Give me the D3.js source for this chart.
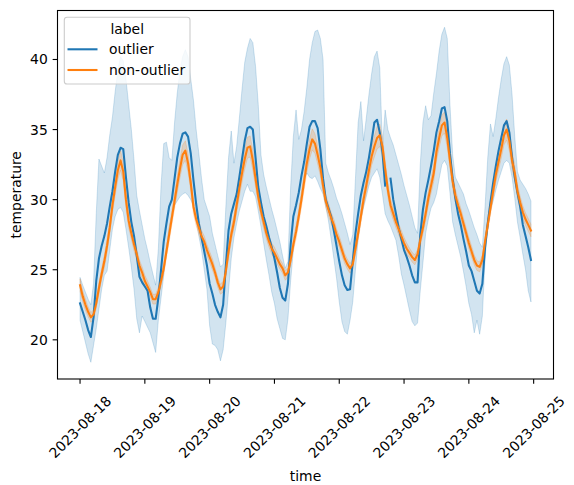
<!DOCTYPE html>
<html>
<head>
<meta charset="utf-8">
<script src="https://cdn.jsdelivr.net/npm/d3@7"></script>
<style>
  html, body { margin: 0; padding: 0; background: #fff; }
  svg { display: block; }
  text { font-family: "DejaVu Sans", sans-serif; fill: #000; }
</style>
</head>
<body>
<svg id="chart" width="574" height="485"></svg>
<script>
// ---------------- DATA (hourly, 2023-08-18 00:00 UTC onwards) ----------------
const startTime = "2023-08-18T00:00:00Z";
const seriesLabels = ["outlier", "non-outlier"];
const legendTitle = "label";
const xLabel = "time";
const yLabel = "temperature";
const yTickValues = [20, 25, 30, 35, 40];

// outlier: mean temperature
const outlierMean = [
  22.6, 22.0, 21.4, 20.7, 20.2, 21.6, 24.2, 25.8, 26.7, 27.4, 28.3, 29.5, 30.6, 32.0, 33.2, 33.7, 33.6, 31.6, 29.8, 28.4, 27.4, 26.0, 24.5, 24.1,
  23.8, 23.5, 22.3, 21.5, 21.5, 23.0, 25.0, 27.0, 28.3, 29.5, 30.0, 31.5, 33.0, 34.0, 34.7, 34.8, 34.5, 33.3, 31.4, 29.7, 28.3, 27.3, 26.3, 25.3,
  24.0, 23.3, 22.5, 22.0, 21.6, 22.5, 25.3, 27.8, 29.0, 29.7, 30.4, 31.6, 32.9, 34.2, 35.1, 35.2, 35.0, 33.0, 30.9, 29.8, 28.8, 28.1, 27.3, 26.6,
  25.8, 24.8, 23.7, 23.0, 22.8, 24.0, 26.8, 28.8, 29.6, 30.5, 31.7, 32.7, 34.0, 35.2, 35.6, 35.6, 35.1, 33.6, 31.5, 30.0, 29.4, 28.8, 27.8, 26.7,
  25.6, 24.6, 23.9, 23.55, 23.6, 25.6, 27.6, 29.0, 30.3, 31.2, 32.0, 33.0, 34.2, 35.5, 35.7, 34.8, 33.4, 31.0, null, 31.5, 30.0, 29.0, 28.0, 27.2,
  26.4, 25.9, 25.3, 24.6, 24.1, 24.1, 27.5, 29.3, 30.5, 31.4, 32.4, 33.5, 34.8, 35.6, 36.5, 36.6, 35.6, 33.3, 31.5, 30.1, 29.0, 28.2, 27.2, 26.3,
  25.3, 24.9, 24.2, 23.5, 23.3, 24.0, 26.6, 28.3, 29.8, 31.2, 32.4, 33.5, 34.4, 35.3, 35.6, 34.8, 33.0, 31.6, 30.5, 29.5, 28.2, 27.4, 26.6, 25.7
];
// outlier: confidence band, lower edge
const outlierLow = [
  21.4, 20.6, 19.8, 19.0, 18.4, 19.6, 20.8, 22.2, 23.6, 24.6, 24.9, 26.4, 27.9, 28.8, 29.3, 29.45, 29.1, 27.9, 26.6, 25.2, 23.6, 21.5, 20.5, 21.7,
  21.3, 20.9, 20.5, 19.8, 19.1, 21.4, 23.0, 24.6, 26.4, 28.0, 28.9, 29.6, 29.9, 30.2, 30.4, 30.5, 30.3, 30.0, 29.5, 28.5, 27.4, 26.4, 25.0, 23.6,
  21.0, 19.7, 19.6, 19.3, 18.5, 19.3, 21.2, 23.5, 25.8, 27.3, 28.3, 29.2, 29.9, 30.6, 31.1, 30.6, 30.6, 30.2, 29.2, 28.1, 26.9, 25.7, 24.6, 23.4,
  22.6, 21.5, 20.8, 20.1, 20.0, 21.5, 24.2, 26.4, 28.0, 29.0, 30.3, 31.5, 31.9, 31.6, 31.5, 31.7, 31.3, 30.8, 30.4, 29.5, 28.5, 27.2, 25.8, 24.4,
  22.7, 21.3, 20.6, 20.4, 21.4, 22.7, 25.0, 27.2, 28.6, 29.45, 30.2, 31.0, 31.6, 31.9, 32.2, 31.6, 30.4, 29.0, 28.5, 28.1, 27.6, 27.1, 26.0, 24.7,
  23.9, 23.0, 22.1, 21.3, 21.0, 21.2, 23.5, 25.5, 27.6, 28.6, 29.4, 29.8, 30.4, 31.5, 32.5, 32.8, 32.4, 30.5, 28.4, 27.5, 26.7, 25.9, 24.9, 23.8,
  22.6, 21.8, 20.5, 21.4, 20.4, 21.7, 25.8, 28.0, 29.2, 29.9, 30.7, 31.4, 32.0, 32.6, 32.8, 32.6, 31.6, 30.1, 28.4, 27.3, 26.1, 25.0, 23.5, 22.7
];
// outlier: confidence band, upper edge
const outlierHigh = [
  24.45, 23.9, 23.4, 22.9, 22.5, 24.0, 29.0, 32.9, 32.4, 31.9, 33.0, 34.6, 35.9, 37.7, 39.2, 40.2, 39.9, 38.6, 36.8, 35.0, 32.8, 30.3, 29.2, 28.2,
  27.2, 26.4, 25.5, 24.7, 23.9, 26.5, 31.0, 34.0, 34.1, 33.0, 32.8, 35.5, 37.6, 39.2, 40.2, 40.7, 40.2, 38.6, 37.1, 35.0, 33.3, 31.5, 30.0, 29.4,
  28.8, 27.6, 26.8, 26.0, 25.2, 25.4, 29.5, 33.0, 34.9, 32.6, 33.8, 35.8, 37.9, 39.8, 40.8, 41.5, 41.2, 39.5, 36.8, 33.2, 31.8, 30.9, 30.1, 29.3,
  28.6, 27.8, 27.0, 26.0, 25.1, 25.6, 30.9, 34.5, 36.4, 34.3, 35.0, 36.3, 38.0, 40.0, 41.2, 42.0, 42.1, 41.5, 40.0, 32.6, 31.9, 31.4, 30.8, 30.1,
  29.6, 29.0, 28.3, 27.6, 26.8, 27.5, 31.5, 35.5, 37.0, 34.2, 35.8, 37.5, 39.0, 40.2, 40.6, 39.4, 33.8, 36.4, 35.0, 34.4, 33.9, 33.2, 32.5, 31.8,
  31.0, 30.3, 29.6, 28.8, 28.0, 27.6, 32.5, 35.5, 36.7, 35.7, 36.0, 37.6, 39.0, 40.6, 41.8, 42.3, 41.5, 36.8, 33.2, 31.6, 31.2, 30.8, 30.4, 29.7,
  29.2, 28.6, 28.0, 27.5, 26.9, 26.6, 29.5, 33.0, 35.4, 34.5, 35.8, 37.3, 38.6, 39.7, 40.2, 39.6, 37.5, 34.5, 32.0, 31.4, 31.1, 30.8, 30.4, 29.9
];
// non-outlier: mean temperature
const normalMean = [
  23.9, 23.1, 22.5, 22.0, 21.6, 21.8, 22.6, 23.7, 24.7, 25.6, 26.7, 28.0, 29.6, 30.9, 32.1, 32.8, 32.0, 30.0, 28.5, 27.6, 26.8, 26.1, 25.3, 24.8,
  24.2, 23.8, 23.4, 22.9, 22.9, 23.4, 24.2, 25.1, 26.3, 27.5, 28.7, 29.9, 31.1, 32.2, 33.2, 33.5, 32.6, 31.2, 29.5, 28.6, 28.0, 27.4, 27.0, 26.4,
  25.9, 25.4, 24.8, 24.1, 23.6, 23.8, 24.9, 26.3, 27.5, 28.4, 29.6, 30.8, 31.9, 32.9, 33.7, 33.8, 32.8, 31.5, 30.2, 29.2, 28.4, 27.6, 27.0, 26.5,
  26.2, 25.8, 25.4, 25.1, 24.6, 24.8, 25.7, 26.8, 27.7, 28.8, 30.0, 31.3, 32.6, 33.6, 34.3, 34.0, 33.2, 32.3, 31.0, 29.9, 29.3, 28.7, 28.2, 27.5,
  27.0, 26.4, 25.8, 25.4, 25.1, 25.4, 26.5, 27.6, 28.8, 30.0, 31.0, 32.1, 33.1, 33.8, 34.4, 34.6, 33.8, 32.2, 30.7, 29.6, 29.0, 28.4, 27.9, 27.4,
  26.9, 26.5, 26.2, 25.9, 25.7, 26.1, 27.1, 28.0, 29.0, 30.1, 31.0, 31.9, 33.4, 34.4, 35.3, 35.5, 34.4, 32.8, 31.3, 30.3, 29.6, 29.0, 28.3, 27.6,
  26.9, 26.3, 25.7, 25.3, 25.2, 25.7, 27.0, 28.2, 29.4, 30.6, 31.8, 32.7, 33.6, 34.6, 35.0, 34.2, 32.8, 31.9, 30.6, 29.8, 29.1, 28.6, 28.2, 27.8
];
// non-outlier: half width of the confidence band
const normalErr = [
  0.45, 0.4, 0.4, 0.35, 0.35, 0.35, 0.35, 0.4, 0.4, 0.45, 0.5, 0.5, 0.55, 0.6, 0.65, 0.7, 0.65, 0.6, 0.5, 0.45, 0.45, 0.4, 0.4, 0.4,
  0.4, 0.4, 0.35, 0.35, 0.35, 0.35, 0.4, 0.4, 0.45, 0.5, 0.5, 0.55, 0.6, 0.65, 0.7, 0.7, 0.65, 0.55, 0.5, 0.45, 0.45, 0.4, 0.4, 0.4,
  0.4, 0.4, 0.35, 0.35, 0.35, 0.4, 0.4, 0.45, 0.5, 0.5, 0.55, 0.6, 0.65, 0.7, 0.75, 0.75, 0.7, 0.6, 0.5, 0.45, 0.45, 0.4, 0.4, 0.4,
  0.4, 0.4, 0.35, 0.35, 0.35, 0.35, 0.4, 0.45, 0.5, 0.5, 0.55, 0.6, 0.65, 0.7, 0.75, 0.7, 0.65, 0.6, 0.5, 0.45, 0.45, 0.4, 0.4, 0.4,
  0.4, 0.4, 0.35, 0.35, 0.35, 0.35, 0.4, 0.45, 0.5, 0.5, 0.55, 0.6, 0.65, 0.75, 0.8, 0.8, 0.7, 0.6, 0.5, 0.45, 0.45, 0.4, 0.4, 0.4,
  0.4, 0.4, 0.35, 0.35, 0.35, 0.35, 0.4, 0.45, 0.5, 0.5, 0.55, 0.6, 0.65, 0.7, 0.75, 0.75, 0.7, 0.6, 0.5, 0.45, 0.45, 0.4, 0.4, 0.4,
  0.4, 0.4, 0.35, 0.35, 0.35, 0.35, 0.4, 0.45, 0.5, 0.5, 0.55, 0.6, 0.65, 0.7, 0.75, 0.7, 0.65, 0.55, 0.5, 0.45, 0.45, 0.45, 0.45, 0.45
];

// ---------------- LAYOUT / STYLE ----------------
const colors = ["#1f77b4", "#ff7f0e"];
const fontSize = 13.9;
const plot = { left: 57.5, right: 553.5, top: 10.5, bottom: 379 };
const tickLen = 4.86;

const svg = d3.select("#chart");

const t0 = new Date(startTime).getTime();
const times = outlierMean.map((_, i) => new Date(t0 + i * 3600 * 1000));
const xMin = times[0].getTime(), xMax = times[times.length - 1].getTime();
const xPad = 0.05 * (xMax - xMin);
const x = d3.scaleUtc()
  .domain([new Date(xMin - xPad), new Date(xMax + xPad)])
  .range([plot.left, plot.right]);

const allVals = outlierLow.concat(outlierHigh);
const yLo = d3.min(allVals), yHi = d3.max(allVals);
const yPad = 0.05 * (yHi - yLo);
const y = d3.scaleLinear()
  .domain([yLo - yPad, yHi + yPad])
  .range([plot.bottom, plot.top]);

const rows = times.map((t, i) => ({
  t,
  om: outlierMean[i], ol: outlierLow[i], oh: outlierHigh[i],
  nm: normalMean[i], nl: normalMean[i] - normalErr[i], nh: normalMean[i] + normalErr[i]
}));

// bands (drawn below lines, like matplotlib collections)
const bandO = d3.area().x(d => x(d.t)).y0(d => y(d.ol)).y1(d => y(d.oh));
const bandN = d3.area().x(d => x(d.t)).y0(d => y(d.nl)).y1(d => y(d.nh));
svg.append("path").attr("d", bandO(rows))
  .attr("fill", colors[0]).attr("fill-opacity", 0.2)
  .attr("stroke", colors[0]).attr("stroke-opacity", 0.2).attr("stroke-width", 1);
svg.append("path").attr("d", bandN(rows))
  .attr("fill", colors[1]).attr("fill-opacity", 0.2)
  .attr("stroke", colors[1]).attr("stroke-opacity", 0.2).attr("stroke-width", 1);

// lines
const lineO = d3.line().defined(d => d.om != null).x(d => x(d.t)).y(d => y(d.om));
const lineN = d3.line().x(d => x(d.t)).y(d => y(d.nm));
svg.append("path").attr("d", lineO(rows)).attr("fill", "none")
  .attr("stroke", colors[0]).attr("stroke-width", 2.08).attr("stroke-linejoin", "round").attr("stroke-linecap", "square");
svg.append("path").attr("d", lineN(rows)).attr("fill", "none")
  .attr("stroke", colors[1]).attr("stroke-width", 2.08).attr("stroke-linejoin", "round").attr("stroke-linecap", "square");

// spines
svg.append("rect")
  .attr("x", plot.left).attr("y", plot.top)
  .attr("width", plot.right - plot.left).attr("height", plot.bottom - plot.top)
  .attr("fill", "none").attr("stroke", "#000").attr("stroke-width", 1.1);

// y axis ticks
const yAxisG = svg.append("g");
yTickValues.forEach(v => {
  const yy = y(v);
  yAxisG.append("line").attr("x1", plot.left).attr("x2", plot.left - tickLen)
    .attr("y1", yy).attr("y2", yy).attr("stroke", "#000").attr("stroke-width", 1.1);
  yAxisG.append("text").attr("x", plot.left - tickLen - 4.86).attr("y", yy)
    .attr("text-anchor", "end").attr("dominant-baseline", "central")
    .attr("font-size", fontSize).text(v);
});

// x axis ticks (daily)
const fmt = d3.utcFormat("%Y-%m-%d");
const xTicks = x.ticks(d3.utcDay.every(1));
const xAxisG = svg.append("g");
xTicks.forEach(d => {
  const xx = x(d);
  xAxisG.append("line").attr("x1", xx).attr("x2", xx)
    .attr("y1", plot.bottom).attr("y2", plot.bottom + tickLen)
    .attr("stroke", "#000").attr("stroke-width", 1.1);
  xAxisG.append("text")
    .attr("transform", `translate(${xx},${427}) rotate(-45)`)
    .attr("text-anchor", "middle").attr("dominant-baseline", "central")
    .attr("font-size", fontSize).text(fmt(d));
});

// axis labels
svg.append("text").attr("x", (plot.left + plot.right) / 2).attr("y", 481)
  .attr("text-anchor", "middle").attr("font-size", fontSize).text(xLabel);
svg.append("text").attr("transform", `translate(16,${(plot.top + plot.bottom) / 2}) rotate(-90)`)
  .attr("text-anchor", "middle").attr("dominant-baseline", "central")
  .attr("font-size", fontSize).text(yLabel);

// legend
const lg = svg.append("g");
lg.append("rect").attr("x", 64.3).attr("y", 17.3).attr("width", 125.7).attr("height", 66.7)
  .attr("rx", 2.8).attr("fill", "#fff").attr("fill-opacity", 0.8)
  .attr("stroke", "#cccccc").attr("stroke-width", 1.1);
lg.append("text").attr("x", 127.2).attr("y", 29).attr("text-anchor", "middle")
  .attr("dominant-baseline", "central").attr("font-size", fontSize).text(legendTitle);
seriesLabels.forEach((s, i) => {
  const yy = 49.3 + i * 20.7;
  lg.append("line").attr("x1", 67.5).attr("x2", 97.5).attr("y1", yy).attr("y2", yy)
    .attr("stroke", colors[i]).attr("stroke-width", 2.08);
  lg.append("text").attr("x", 109).attr("y", yy).attr("dominant-baseline", "central")
    .attr("font-size", fontSize).text(s);
});
</script>
</body>
</html>
